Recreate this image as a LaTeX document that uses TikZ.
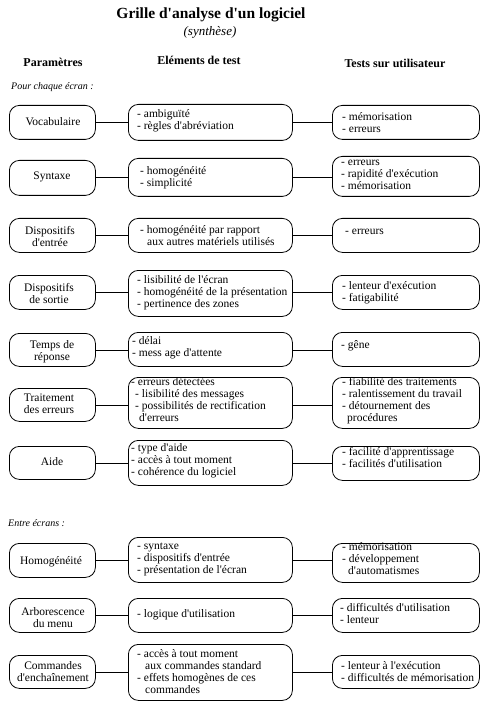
\documentclass[tikz,border=0pt]{standalone}
\usepackage{fontspec}
\setmainfont{Liberation Serif}[Ligatures=TeXOff]
\begin{document}
\begin{tikzpicture}[x=1pt,y=-1pt,
  box/.style={draw, line width=0.8pt, rounded corners=10pt, inner sep=0pt, anchor=north west},
  conn/.style={draw, line width=0.8pt},
  txt/.style={font=\fontsize{11.5}{12}\selectfont, inner sep=0pt, align=left, anchor=west},
  ptxt/.style={font=\fontsize{11.5}{12}\selectfont, inner sep=0pt, align=center, anchor=center},
  head/.style={font=\bfseries\fontsize{12}{14}\selectfont, inner sep=0pt},
  sect/.style={font=\itshape\fontsize{10}{12}\selectfont, inner sep=0pt, anchor=west}]
\newcommand\rbox[5]{\node[box, minimum width={(#4-#2)*1pt}, minimum height={(#5-#3)*1pt}] (#1) at (#2,#3) {};}
\useasboundingbox (0,0) rectangle (482,703);
% title
\node[font=\bfseries\fontsize{15.5}{18}\selectfont, inner sep=0pt] (title) at (211,15) {Grille d'analyse d'un logiciel};
\node[font=\itshape\fontsize{13}{15}\selectfont, inner sep=0pt] (sub) at (210,32) {(synthèse)};
\node[head] (h1) at (53,62) {Paramètres};
\node[head] (h2) at (199,60) {Eléments de test};
\node[head] (h3) at (395,63) {Tests sur utilisateur};
\node[sect] (s1) at (11,87) {Pour chaque écran :};
\node[sect] (s2) at (8,523) {Entre écrans :};
% boxes
\rbox{l1}{9}{105}{95}{139}\rbox{m1}{128}{104}{292}{140}\rbox{r1}{332}{105}{479}{139}
\rbox{l2}{9}{160}{95}{195}\rbox{m2}{128}{158}{292}{196}\rbox{r2}{332}{156}{479}{196}
\rbox{l3}{9}{218}{95}{252}\rbox{m3}{128}{218}{292}{252}\rbox{r3}{332}{218}{479}{252}
\rbox{l4}{9}{275}{95}{309}\rbox{m4}{128}{270}{292}{316}\rbox{r4}{332}{275}{479}{309}
\rbox{l5}{9}{333}{95}{366}\rbox{m5}{128}{332}{292}{366}\rbox{r5}{332}{332}{479}{366}
\rbox{l6}{9}{388}{95}{421}\rbox{m6}{128}{377}{292}{428}\rbox{r6}{332}{377}{479}{428}
\rbox{l7}{9}{446}{95}{479}\rbox{m7}{128}{440}{292}{485}\rbox{r7}{332}{446}{479}{480}
\rbox{l8}{9}{543}{95}{577}\rbox{m8}{128}{537}{292}{582}\rbox{r8}{332}{543}{479}{582}
\rbox{l9}{9}{598}{95}{632}\rbox{m9}{128}{598}{292}{632}\rbox{r9}{332}{598}{479}{632}
\rbox{l10}{9}{655}{95}{688}\rbox{m10}{128}{644}{292}{700}\rbox{r10}{332}{655}{479}{688}
% connectors
\foreach \i in {1,...,10}{
  \draw[conn] (l\i.east) -- (l\i.east -| m\i.west);
  \draw[conn] (m\i.east |- l\i.east) -- (r\i.west |- l\i.east);
}
% row texts
\node[ptxt] (t1a) at (53,122) {Vocabulaire};
\node[txt] (t1b) at (137,121) {- ambiguïté\\- règles d'abréviation};
\node[txt] (t1c) at (342,122.5) {- mémorisation\\- erreurs};
\node[ptxt] (t2a) at (52,177) {Syntaxe};
\node[txt] (t2b) at (140,177.5) {- homogénéité\\- simplicité};
\node[txt] (t2c) at (341,175) {- erreurs\\- rapidité d'exécution\\- mémorisation};
\node[ptxt] (t3a) at (50,237) {Dispositifs\\d'entrée};
\node[txt] (t3b) at (140,236) {- homogénéité par rapport\\\hspace*{7pt}aux autres matériels utilisés};
\node[txt] (t3c) at (345,232) {- erreurs};
\node[ptxt] (t4a) at (49,293.5) {Dispositifs\\de sortie};
\node[txt] (t4b) at (137,292.5) {- lisibilité de l'écran\\- homogénéité de la présentation\\- pertinence des zones};
\node[txt] (t4c) at (342,293) {- lenteur d'exécution\\- fatigabilité};
\node[ptxt] (t5a) at (52,351.5) {Temps de\\réponse};
\node[txt] (t5b) at (132,348) {- délai\\- mess age d'attente};
\node[txt] (t5c) at (341,346) {- gêne};
\node[ptxt] (t6a) at (49,404) {Traitement\\des erreurs};
\node[txt] (t6b) at (135,400) {\hspace*{-4pt}- erreurs détectées\\- lisibilité des messages\\- possibilités de rectification\\\hspace*{4pt}d'erreurs};
\node[txt] (t6c) at (342,400.5) {- fiabilité des traitements\\- ralentissement du travail\\- détournement des\\\hspace*{5pt}procédures};
\node[ptxt] (t7a) at (52,462) {Aide};
\node[txt] (t7b) at (131,460.5) {- type d'aide\\- accès à tout moment\\- cohérence du logiciel};
\node[txt] (t7c) at (342,458) {- facilité d'apprentissage\\- facilités d'utilisation};
\node[ptxt] (t8a) at (51,562) {Homogénéité};
\node[txt] (t8b) at (137,559) {- syntaxe\\- dispositifs d'entrée\\- présentation de l'écran};
\node[txt] (t8c) at (342,559) {- mémorisation\\- développement\\\hspace*{6pt}d'automatismes};
\node[ptxt] (t9a) at (53,617.5) {Arborescence\\du menu};
\node[txt] (t9b) at (137,615) {- logique d'utilisation};
\node[txt] (t9c) at (340,614) {- difficultés d'utilisation\\- lenteur};
\node[ptxt] (t10a) at (53,672) {Commandes\\d'enchaînement};
\node[txt] (t10b) at (137,671.5) {- accès à tout moment\\\hspace*{8pt}aux commandes standard\\- effets homogènes de ces\\\hspace*{8pt}commandes};
\node[txt] (t10c) at (341,671.5) {- lenteur à l'exécution\\- difficultés de mémorisation};
\end{tikzpicture}
\end{document}
